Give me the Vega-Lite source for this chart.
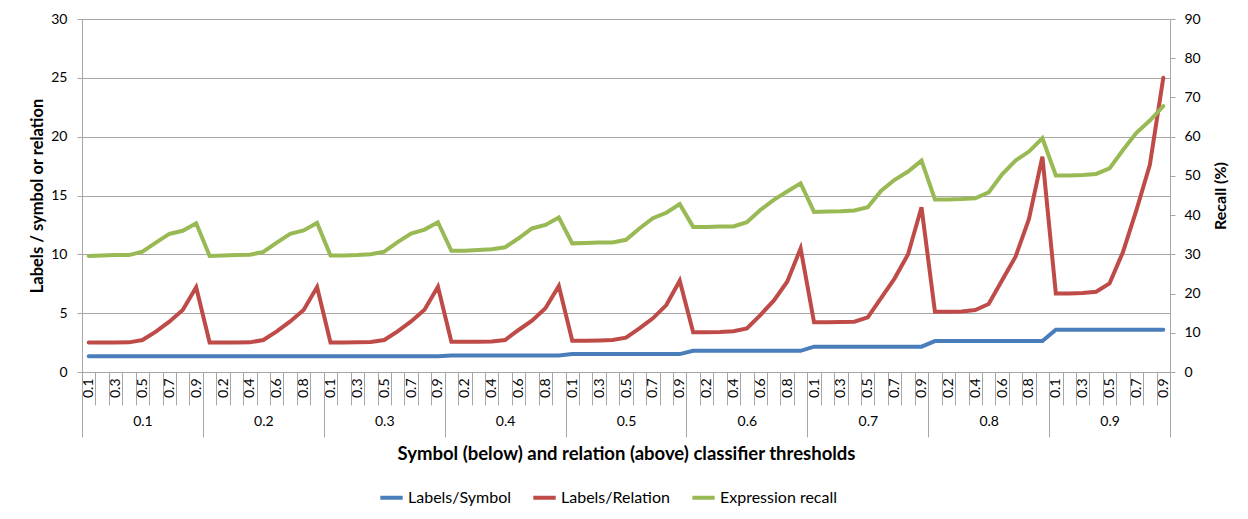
{
  "$schema": "https://vega.github.io/schema/vega-lite/v6.json",
  "width": 1088,
  "height": 353,
  "autosize": {"type": "none"},
  "padding": {"left": 82, "top": 19, "right": 78, "bottom": 147},
  "background": "white",
  "config": {
    "view": {"stroke": null},
    "font": "Lato",
    "axis": {
      "labelFont": "Lato", "labelFontSize": 14, "labelColor": "#000000",
      "titleFont": "Lato", "titleFontSize": 16, "titleColor": "#000000",
      "domainColor": "#a6a6a6", "tickColor": "#a6a6a6", "gridColor": "#a6a6a6",
      "domainWidth": 1, "tickWidth": 1, "gridWidth": 1
    },
    "legend": {"labelFont": "Lato", "labelFontSize": 16, "labelColor": "#000000"}
  },
  "data": {
    "values": [
      {"i":0,"sym":1.33,"rel":2.50,"rec":29.6},{"i":1,"sym":1.33,"rel":2.50,"rec":29.7},{"i":2,"sym":1.33,"rel":2.50,"rec":29.8},{"i":3,"sym":1.33,"rel":2.52,"rec":29.8},{"i":4,"sym":1.33,"rel":2.72,"rec":30.7},{"i":5,"sym":1.33,"rel":3.43,"rec":33.0},{"i":6,"sym":1.33,"rel":4.28,"rec":35.2},{"i":7,"sym":1.33,"rel":5.27,"rec":36.0},{"i":8,"sym":1.33,"rel":7.20,"rec":37.9},
      {"i":9,"sym":1.33,"rel":2.50,"rec":29.6},{"i":10,"sym":1.33,"rel":2.50,"rec":29.7},{"i":11,"sym":1.33,"rel":2.50,"rec":29.8},{"i":12,"sym":1.33,"rel":2.52,"rec":29.9},{"i":13,"sym":1.33,"rel":2.72,"rec":30.6},{"i":14,"sym":1.33,"rel":3.45,"rec":33.0},{"i":15,"sym":1.33,"rel":4.30,"rec":35.2},{"i":16,"sym":1.33,"rel":5.27,"rec":36.1},{"i":17,"sym":1.33,"rel":7.22,"rec":38.0},
      {"i":18,"sym":1.34,"rel":2.50,"rec":29.7},{"i":19,"sym":1.34,"rel":2.50,"rec":29.7},{"i":20,"sym":1.34,"rel":2.52,"rec":29.8},{"i":21,"sym":1.34,"rel":2.55,"rec":30.0},{"i":22,"sym":1.34,"rel":2.72,"rec":30.7},{"i":23,"sym":1.34,"rel":3.45,"rec":33.1},{"i":24,"sym":1.34,"rel":4.30,"rec":35.3},{"i":25,"sym":1.34,"rel":5.30,"rec":36.3},{"i":26,"sym":1.34,"rel":7.25,"rec":38.2},
      {"i":27,"sym":1.40,"rel":2.58,"rec":30.9},{"i":28,"sym":1.40,"rel":2.58,"rec":30.9},{"i":29,"sym":1.40,"rel":2.58,"rec":31.1},{"i":30,"sym":1.40,"rel":2.60,"rec":31.3},{"i":31,"sym":1.40,"rel":2.72,"rec":31.8},{"i":32,"sym":1.40,"rel":3.57,"rec":34.1},{"i":33,"sym":1.40,"rel":4.36,"rec":36.6},{"i":34,"sym":1.40,"rel":5.41,"rec":37.5},{"i":35,"sym":1.40,"rel":7.31,"rec":39.4},
      {"i":36,"sym":1.52,"rel":2.66,"rec":32.8},{"i":37,"sym":1.52,"rel":2.66,"rec":32.9},{"i":38,"sym":1.52,"rel":2.68,"rec":33.0},{"i":39,"sym":1.52,"rel":2.72,"rec":33.0},{"i":40,"sym":1.52,"rel":2.92,"rec":33.7},{"i":41,"sym":1.52,"rel":3.71,"rec":36.6},{"i":42,"sym":1.52,"rel":4.56,"rec":39.2},{"i":43,"sym":1.52,"rel":5.69,"rec":40.6},{"i":44,"sym":1.52,"rel":7.76,"rec":42.8},
      {"i":45,"sym":1.80,"rel":3.37,"rec":37.0},{"i":46,"sym":1.80,"rel":3.37,"rec":37.0},{"i":47,"sym":1.80,"rel":3.40,"rec":37.1},{"i":48,"sym":1.80,"rel":3.46,"rec":37.1},{"i":49,"sym":1.80,"rel":3.71,"rec":38.2},{"i":50,"sym":1.80,"rel":4.84,"rec":41.3},{"i":51,"sym":1.80,"rel":6.06,"rec":43.9},{"i":52,"sym":1.80,"rel":7.67,"rec":46.0},{"i":53,"sym":1.80,"rel":10.5,"rec":48.1},
      {"i":54,"sym":2.15,"rel":4.22,"rec":40.8},{"i":55,"sym":2.15,"rel":4.22,"rec":40.9},{"i":56,"sym":2.15,"rel":4.24,"rec":41.0},{"i":57,"sym":2.15,"rel":4.27,"rec":41.2},{"i":58,"sym":2.15,"rel":4.65,"rec":42.0},{"i":59,"sym":2.15,"rel":6.30,"rec":46.2},{"i":60,"sym":2.15,"rel":7.96,"rec":49.0},{"i":61,"sym":2.15,"rel":10.0,"rec":51.1},{"i":62,"sym":2.15,"rel":14.0,"rec":53.9},
      {"i":63,"sym":2.63,"rel":5.13,"rec":44.0},{"i":64,"sym":2.63,"rel":5.13,"rec":44.0},{"i":65,"sym":2.63,"rel":5.15,"rec":44.1},{"i":66,"sym":2.63,"rel":5.27,"rec":44.3},{"i":67,"sym":2.63,"rel":5.78,"rec":45.8},{"i":68,"sym":2.63,"rel":7.80,"rec":50.4},{"i":69,"sym":2.63,"rel":9.80,"rec":53.9},{"i":70,"sym":2.63,"rel":13.0,"rec":56.2},{"i":71,"sym":2.63,"rel":18.3,"rec":59.6},
      {"i":72,"sym":3.60,"rel":6.68,"rec":50.1},{"i":73,"sym":3.60,"rel":6.68,"rec":50.1},{"i":74,"sym":3.60,"rel":6.72,"rec":50.2},{"i":75,"sym":3.60,"rel":6.82,"rec":50.5},{"i":76,"sym":3.60,"rel":7.53,"rec":51.9},{"i":77,"sym":3.60,"rel":10.2,"rec":56.6},{"i":78,"sym":3.60,"rel":13.76,"rec":61.0},{"i":79,"sym":3.60,"rel":17.6,"rec":64.1},{"i":80,"sym":3.60,"rel":25.0,"rec":67.8}
    ]
  },
  "layer": [
    {
      "transform": [{"fold": ["sym", "rel"], "as": ["series", "value"]}],
      "mark": {"type": "line", "strokeWidth": 4, "strokeCap": "round"},
      "encoding": {
        "x": {
          "field": "i", "type": "quantitative",
          "scale": {"domain": [-0.5, 80.5], "nice": false, "zero": false},
          "axis": {
            "orient": "bottom",
            "values": [-0.5,0.5,1.5,2.5,3.5,4.5,5.5,6.5,7.5,8.5,9.5,10.5,11.5,12.5,13.5,14.5,15.5,16.5,17.5,18.5,19.5,20.5,21.5,22.5,23.5,24.5,25.5,26.5,27.5,28.5,29.5,30.5,31.5,32.5,33.5,34.5,35.5,36.5,37.5,38.5,39.5,40.5,41.5,42.5,43.5,44.5,45.5,46.5,47.5,48.5,49.5,50.5,51.5,52.5,53.5,54.5,55.5,56.5,57.5,58.5,59.5,60.5,61.5,62.5,63.5,64.5,65.5,66.5,67.5,68.5,69.5,70.5,71.5,72.5,73.5,74.5,75.5,76.5,77.5,78.5,79.5,80.5],
            "labels": false, "tickSize": 33, "grid": false, "title": null, "domain": true
          }
        },
        "y": {
          "field": "value", "type": "quantitative",
          "scale": {"domain": [0, 30], "nice": false},
          "axis": {
            "values": [0,5,10,15,20,25,30], "title": "Labels / symbol or relation",
            "grid": true, "tickSize": 5, "labelPadding": 10, "titlePadding": 5,
            "titleFontWeight": "bold", "titleFontSize": 16.5
          }
        },
        "color": {
          "field": "series", "type": "nominal",
          "scale": {"domain": ["sym", "rel", "rec"], "range": ["#4A7EBB", "#BE4B48", "#98B954"]},
          "legend": {
            "orient": "none", "legendX": 296, "legendY": 465,
            "direction": "horizontal", "title": null,
            "symbolType": "stroke", "symbolStrokeWidth": 4, "symbolSize": 500,
            "columnPadding": 14, "labelOffset": 3, "labelLimit": 300,
            "labelExpr": "datum.label == 'sym' ? 'Labels/Symbol' : datum.label == 'rel' ? 'Labels/Relation' : 'Expression recall'"
          }
        }
      }
    },
    {
      "mark": {"type": "line", "strokeWidth": 4, "strokeCap": "round"},
      "encoding": {
        "x": {
          "field": "i", "type": "quantitative",
          "scale": {"domain": [-0.5, 80.5], "nice": false, "zero": false},
          "axis": {
            "orient": "bottom",
            "values": [0,2,4,6,8,10,12,14,16,18,20,22,24,26,28,30,32,34,36,38,40,42,44,46,48,50,52,54,56,58,60,62,64,66,68,70,72,74,76,78,80],
            "labelExpr": "format((datum.value % 9 + 1) / 10, '.1f')",
            "labelAngle": -90, "ticks": false, "tickSize": 0, "domain": false, "grid": false,
            "labelPadding": 6, "title": null, "labelFlush": false, "labelOverlap": false, "labelBound": false
          }
        },
        "y": {
          "field": "rec", "type": "quantitative",
          "scale": {"domain": [0, 90], "nice": false},
          "axis": {
            "orient": "right", "values": [0,10,20,30,40,50,60,70,80,90],
            "title": "Recall (%)", "grid": false, "tickSize": 5, "labelPadding": 9,
            "titleAngle": 270, "titleBaseline": "top", "titlePadding": 12, "titleFontWeight": "bold"
          }
        },
        "color": {"datum": "rec", "type": "nominal"}
      }
    },
    {
      "mark": {"type": "point", "opacity": 0},
      "encoding": {
        "x": {
          "field": "i", "type": "quantitative",
          "scale": {"domain": [-0.5, 80.5], "nice": false, "zero": false},
          "axis": {
            "orient": "bottom",
            "values": [-0.5,8.5,17.5,26.5,35.5,44.5,53.5,62.5,71.5,80.5],
            "labels": false, "tickSize": 65, "domain": false, "grid": false, "title": null
          }
        }
      }
    },
    {
      "mark": {"type": "point", "opacity": 0},
      "encoding": {
        "x": {
          "field": "i", "type": "quantitative",
          "scale": {"domain": [-0.5, 80.5], "nice": false, "zero": false},
          "axis": {
            "orient": "bottom",
            "values": [4,13,22,31,40,49,58,67,76],
            "labelExpr": "format(floor(datum.value / 9 + 1) / 10, '.1f')",
            "ticks": false, "tickSize": 0, "domain": false, "grid": false,
            "labelPadding": 42, "labelFlush": false,
            "title": "Symbol (below) and relation (above) classifier thresholds",
            "titleFontWeight": "bold", "titleFontSize": 18.5, "titlePadding": 16
          }
        }
      }
    }
  ],
  "resolve": {"scale": {"y": "independent"}, "axis": {"x": "independent"}}
}
